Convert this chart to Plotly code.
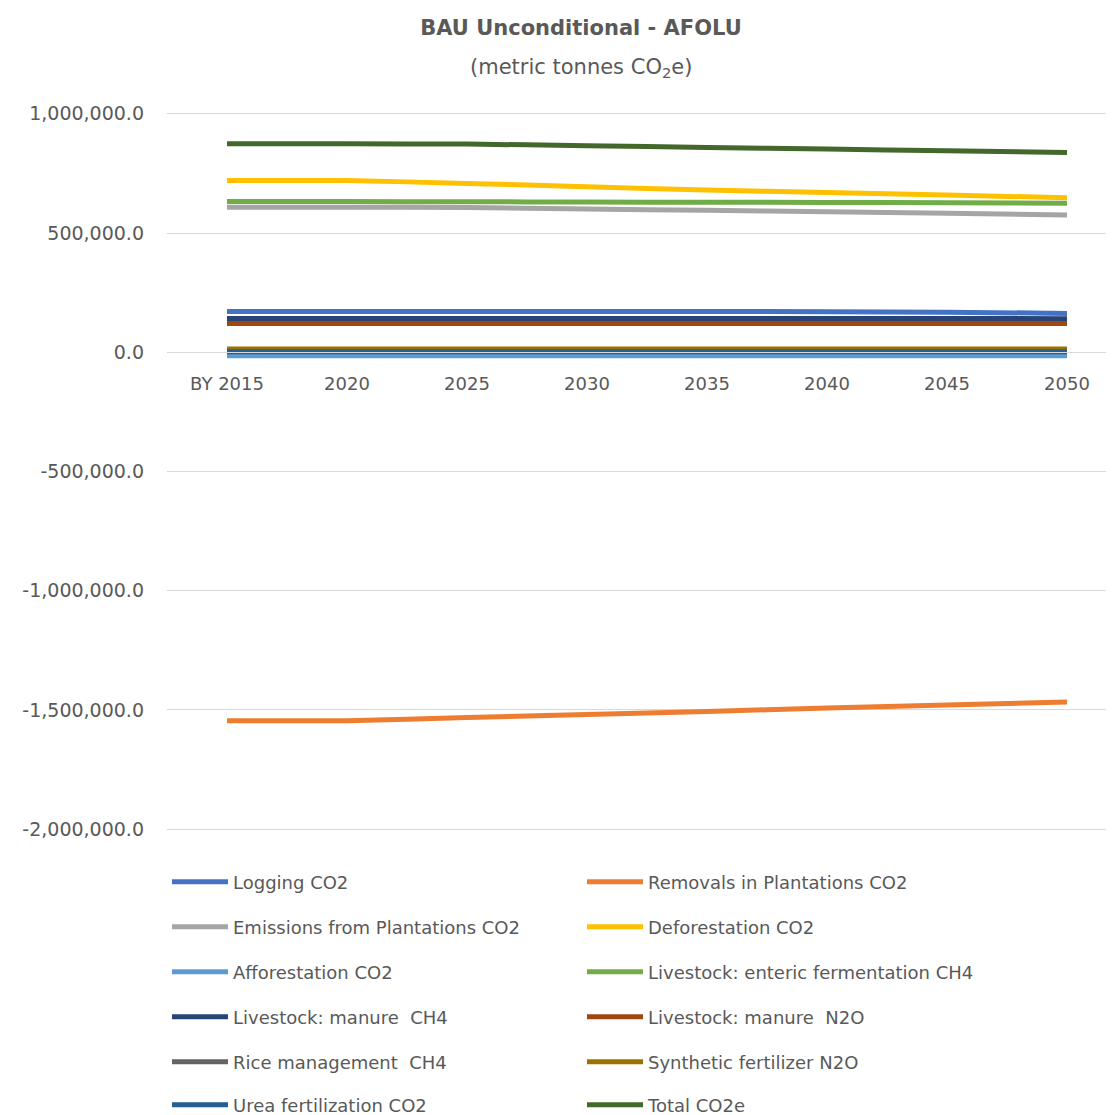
import plotly.graph_objects as go

W, H = 1114, 1115
OFF = 8  # page body margin offset

categories = ["BY 2015", "2020", "2025", "2030", "2035", "2040", "2045", "2050"]

logging_co2 = [171000, 171000, 171000, 171000, 171000, 170000, 168000, 163000]
removals_plantations_co2 = [-1545000, -1545000, -1532000, -1519000, -1506000, -1492000, -1479000, -1466000]
emissions_plantations_co2 = [608000, 608000, 607000, 601000, 595000, 589000, 583000, 576000]
deforestation_co2 = [720000, 720000, 708000, 694000, 680000, 670000, 659000, 648000]
afforestation_co2 = [-15000, -15000, -15000, -15000, -15000, -15000, -15000, -15000]
enteric_ch4 = [632000, 632000, 631000, 630000, 629000, 628000, 627000, 625000]
manure_ch4 = [142000, 142000, 142000, 142000, 142000, 142000, 142000, 141000]
manure_n2o = [121000, 121000, 121000, 121000, 121000, 121000, 121000, 121000]
rice_ch4 = [8000, 8000, 8000, 8000, 8000, 8000, 8000, 8000]
synthetic_fert_n2o = [14000, 14000, 14000, 14000, 14000, 14000, 14000, 14000]
urea_co2 = [2000, 2000, 2000, 2000, 2000, 2000, 2000, 2000]
total_co2e = [874000, 874000, 873000, 866000, 859000, 852000, 845000, 838000]

y_tickvals = [1000000, 500000, 0, -500000, -1000000, -1500000, -2000000]
y_ticktext = ["1,000,000.0", "500,000.0", "0.0", "-500,000.0", "-1,000,000.0", "-1,500,000.0", "-2,000,000.0"]

series = [
    ("Logging CO2", logging_co2, "#4472C4"),
    ("Removals in Plantations CO2", removals_plantations_co2, "#ED7D31"),
    ("Emissions from Plantations CO2", emissions_plantations_co2, "#A5A5A5"),
    ("Deforestation CO2", deforestation_co2, "#FFC000"),
    ("Afforestation CO2", afforestation_co2, "#5B9BD5"),
    ("Livestock: enteric fermentation CH4", enteric_ch4, "#70AD47"),
    ("Livestock: manure  CH4", manure_ch4, "#264478"),
    ("Livestock: manure  N2O", manure_n2o, "#9E480E"),
    ("Rice management  CH4", rice_ch4, "#636363"),
    ("Synthetic fertilizer N2O", synthetic_fert_n2o, "#997300"),
    ("Urea fertilization CO2", urea_co2, "#255E91"),
    ("Total CO2e", total_co2e, "#43682B"),
]

FONT = "DejaVu Sans, Open Sans, sans-serif"
GRAY = "#595959"

def fx(p):
    return p - OFF

def fy(p):
    return p - OFF

# layout geometry (window pixels -> figure pixels)
y_min, y_max = -2020000, 1020000
L = fx(167)
R = 0
top_px, bot_px = fy(109), fy(834)
T, B = top_px, H - bot_px
plot_w = W - L - R
plot_h = bot_px - top_px
x_right = -0.5 + plot_w / 120.0

fig = go.Figure()
legend_names = ["legend", "legend2", "legend3", "legend4", "legend5", "legend6"]
for i, (name, vals, color) in enumerate(series):
    fig.add_trace(go.Scatter(
        x=list(range(len(categories))), y=vals, name=name, mode="lines",
        line=dict(color=color, width=5, shape="spline", smoothing=0.5),
        legend=legend_names[i // 2],
    ))

zero_frac = (0 - y_min) / (y_max - y_min)

row_px = [882, 927, 972, 1017, 1062, 1105]
legend_layout = {}
for k, ln in enumerate(legend_names):
    legend_layout[ln] = dict(
        orientation="h", xref="paper", yref="paper",
        x=0, y=(bot_px - fy(row_px[k])) / plot_h, xanchor="left", yanchor="middle",
        entrywidth=344, entrywidthmode="pixels",
        font=dict(family=FONT, size=18, color=GRAY),
        bgcolor="rgba(0,0,0,0)", itemwidth=56, borderwidth=0,
    )

fig.update_layout(
    width=W, height=H,
    paper_bgcolor="white", plot_bgcolor="white",
    margin=dict(l=L, r=R, t=T, b=B, autoexpand=False),
    showlegend=True,
    font=dict(family=FONT, color=GRAY),
    xaxis=dict(
        range=[-0.5, x_right], tickmode="array",
        tickvals=list(range(len(categories))), ticktext=categories,
        showgrid=False, zeroline=False, showline=True, linecolor="#D9D9D9", linewidth=1,
        anchor="free", position=zero_frac, ticks="", ticklabelstandoff=15,
        tickfont=dict(family=FONT, size=18, color=GRAY),
    ),
    yaxis=dict(
        range=[y_min, y_max], tickmode="array", tickvals=y_tickvals, ticktext=y_ticktext,
        showgrid=True, gridcolor="#D9D9D9", gridwidth=1, zeroline=False,
        ticks="", ticklabelstandoff=22,
        tickfont=dict(family=FONT, size=19, color=GRAY),
    ),
    title=dict(
        text="<b>BAU Unconditional - AFOLU</b>", xref="container", yref="container",
        x=fx(581) / W, y=1 - fy(28) / H, xanchor="center", yanchor="middle",
        font=dict(family=FONT, size=21, color=GRAY),
    ),
    annotations=[dict(
        text="(metric tonnes CO<sub>2</sub>e)", xref="paper", yref="paper",
        x=(fx(581) - L) / plot_w, y=(bot_px - fy(68)) / plot_h,
        xanchor="center", yanchor="middle", showarrow=False,
        font=dict(family=FONT, size=21, color=GRAY),
    )],
    **legend_layout,
)

fig.write_html("out.html")
